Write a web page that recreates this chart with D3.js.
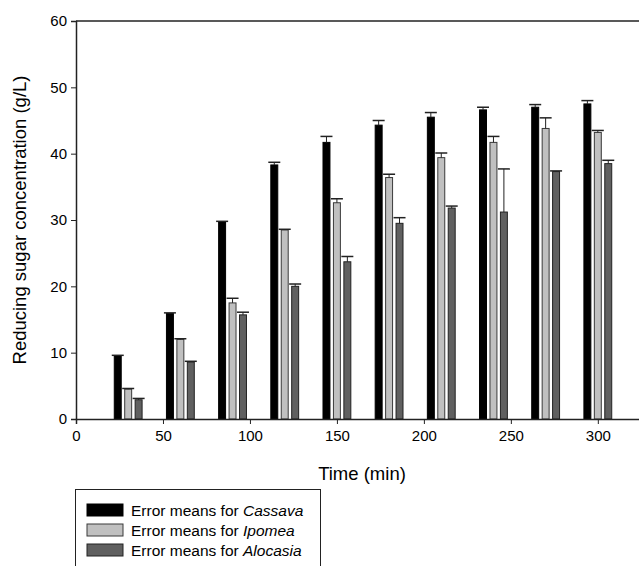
<!DOCTYPE html>
<html>
<head>
<meta charset="utf-8">
<script src="https://cdn.jsdelivr.net/npm/d3@7"></script>
<style>
  body { margin: 0; background: #fff; }
  text { font-family: "Liberation Sans", Arial, sans-serif; }
</style>
</head>
<body>
<svg id="chart" width="639" height="566"></svg>
<script>
// sampling times (min)
let times = [30, 60, 90, 120, 150, 180, 210, 240, 270, 300];

// mean reducing sugar (g/L) and upper error for each substrate
let cassava      = [9.5, 15.9, 29.7, 38.3, 41.7, 44.3, 45.5, 46.6, 47.0, 47.5];
let cassavaErr   = [0.1, 0.1, 0.1, 0.4, 0.9, 0.7, 0.7, 0.4, 0.4, 0.5];
let ipomea       = [4.5, 12.0, 17.5, 28.5, 32.6, 36.4, 39.4, 41.7, 43.8, 43.2];
let ipomeaErr    = [0.1, 0.1, 0.7, 0.1, 0.6, 0.5, 0.7, 0.9, 1.6, 0.3];
let alocasia     = [2.9, 8.6, 15.7, 20.0, 23.7, 29.5, 31.8, 31.2, 37.3, 38.5];
let alocasiaErr  = [0.2, 0.1, 0.4, 0.35, 0.8, 0.85, 0.3, 6.5, 0.1, 0.5];

let yTicks = [0, 10, 20, 30, 40, 50, 60];
let xTicks = [0, 50, 100, 150, 200, 250, 300];

let series = [
    {name: "Cassava",  values: cassava,  err: cassavaErr,  offset: -6, fill: "#000000", stroke: "#000000"},
    {name: "Ipomea",   values: ipomea,   err: ipomeaErr,   offset: 0,  fill: "#c0c0c0", stroke: "#3a3a3a"},
    {name: "Alocasia", values: alocasia, err: alocasiaErr, offset: 6,  fill: "#606060", stroke: "#222222"}
];

let svg = d3.select("#chart");

let x = d3.scaleLinear().domain([0, 330]).range([76, 650]);
let y = d3.scaleLinear().domain([0, 60]).range([419, 21]);
let barW = x(4) - x(0);

// frame lines
svg.append("line")
    .attr("x1", x(0)).attr("x2", 650)
    .attr("y1", y(60)).attr("y2", y(60))
    .attr("stroke", "#222").attr("stroke-width", 1.5);

// bars + error bars
series.forEach(s => {
    let g = svg.append("g");
    times.forEach((t, i) => {
        let cx = x(t + s.offset);
        g.append("rect")
            .attr("x", cx - barW / 2)
            .attr("y", y(s.values[i]))
            .attr("width", barW)
            .attr("height", y(0) - y(s.values[i]))
            .attr("fill", s.fill)
            .attr("stroke", s.stroke)
            .attr("stroke-width", 1);
        let top = y(s.values[i] + s.err[i]);
        g.append("line")
            .attr("x1", cx).attr("x2", cx)
            .attr("y1", y(s.values[i])).attr("y2", top)
            .attr("stroke", "#222").attr("stroke-width", 1);
        g.append("line")
            .attr("x1", cx - 6).attr("x2", cx + 6)
            .attr("y1", top).attr("y2", top)
            .attr("stroke", "#222").attr("stroke-width", 1.5);
    });
});

// axes
let yAxis = svg.append("g")
    .attr("transform", `translate(${x(0)},0)`)
    .call(d3.axisLeft(y).tickValues(yTicks).tickSize(5).tickPadding(4));
let xAxis = svg.append("g")
    .attr("transform", `translate(0,${y(0)})`)
    .call(d3.axisBottom(x).tickValues(xTicks).tickSize(5).tickPadding(6));

[yAxis, xAxis].forEach(a => {
    a.select(".domain").attr("stroke", "#222").attr("stroke-width", 1.5);
    a.selectAll(".tick line").attr("stroke", "#222");
    a.selectAll("text").attr("font-size", 15).attr("fill", "#000")
        .style("font-family", "'Liberation Sans', Arial, sans-serif");
});

// axis titles
svg.append("text")
    .attr("transform", `translate(26,220) rotate(-90)`)
    .attr("text-anchor", "middle")
    .attr("font-size", 18.5)
    .text("Reducing sugar concentration (g/L)");

svg.append("text")
    .attr("x", 362).attr("y", 480)
    .attr("text-anchor", "middle")
    .attr("font-size", 18.5)
    .text("Time (min)");

// legend
let legend = svg.append("g");
legend.append("rect")
    .attr("x", 75.5).attr("y", 489.5)
    .attr("width", 245).attr("height", 100)
    .attr("fill", "none").attr("stroke", "#222").attr("stroke-width", 1);

series.forEach((s, i) => {
    let ly = 504 + i * 20;
    legend.append("rect")
        .attr("x", 87).attr("y", ly)
        .attr("width", 36).attr("height", 12)
        .attr("fill", s.fill).attr("stroke", s.stroke);
    let t = legend.append("text")
        .attr("x", 131).attr("y", ly + 11.5)
        .attr("font-size", 15.5);
    t.append("tspan").text("Error means for ");
    t.append("tspan").attr("font-style", "italic").text(s.name);
});
</script>
</body>
</html>
